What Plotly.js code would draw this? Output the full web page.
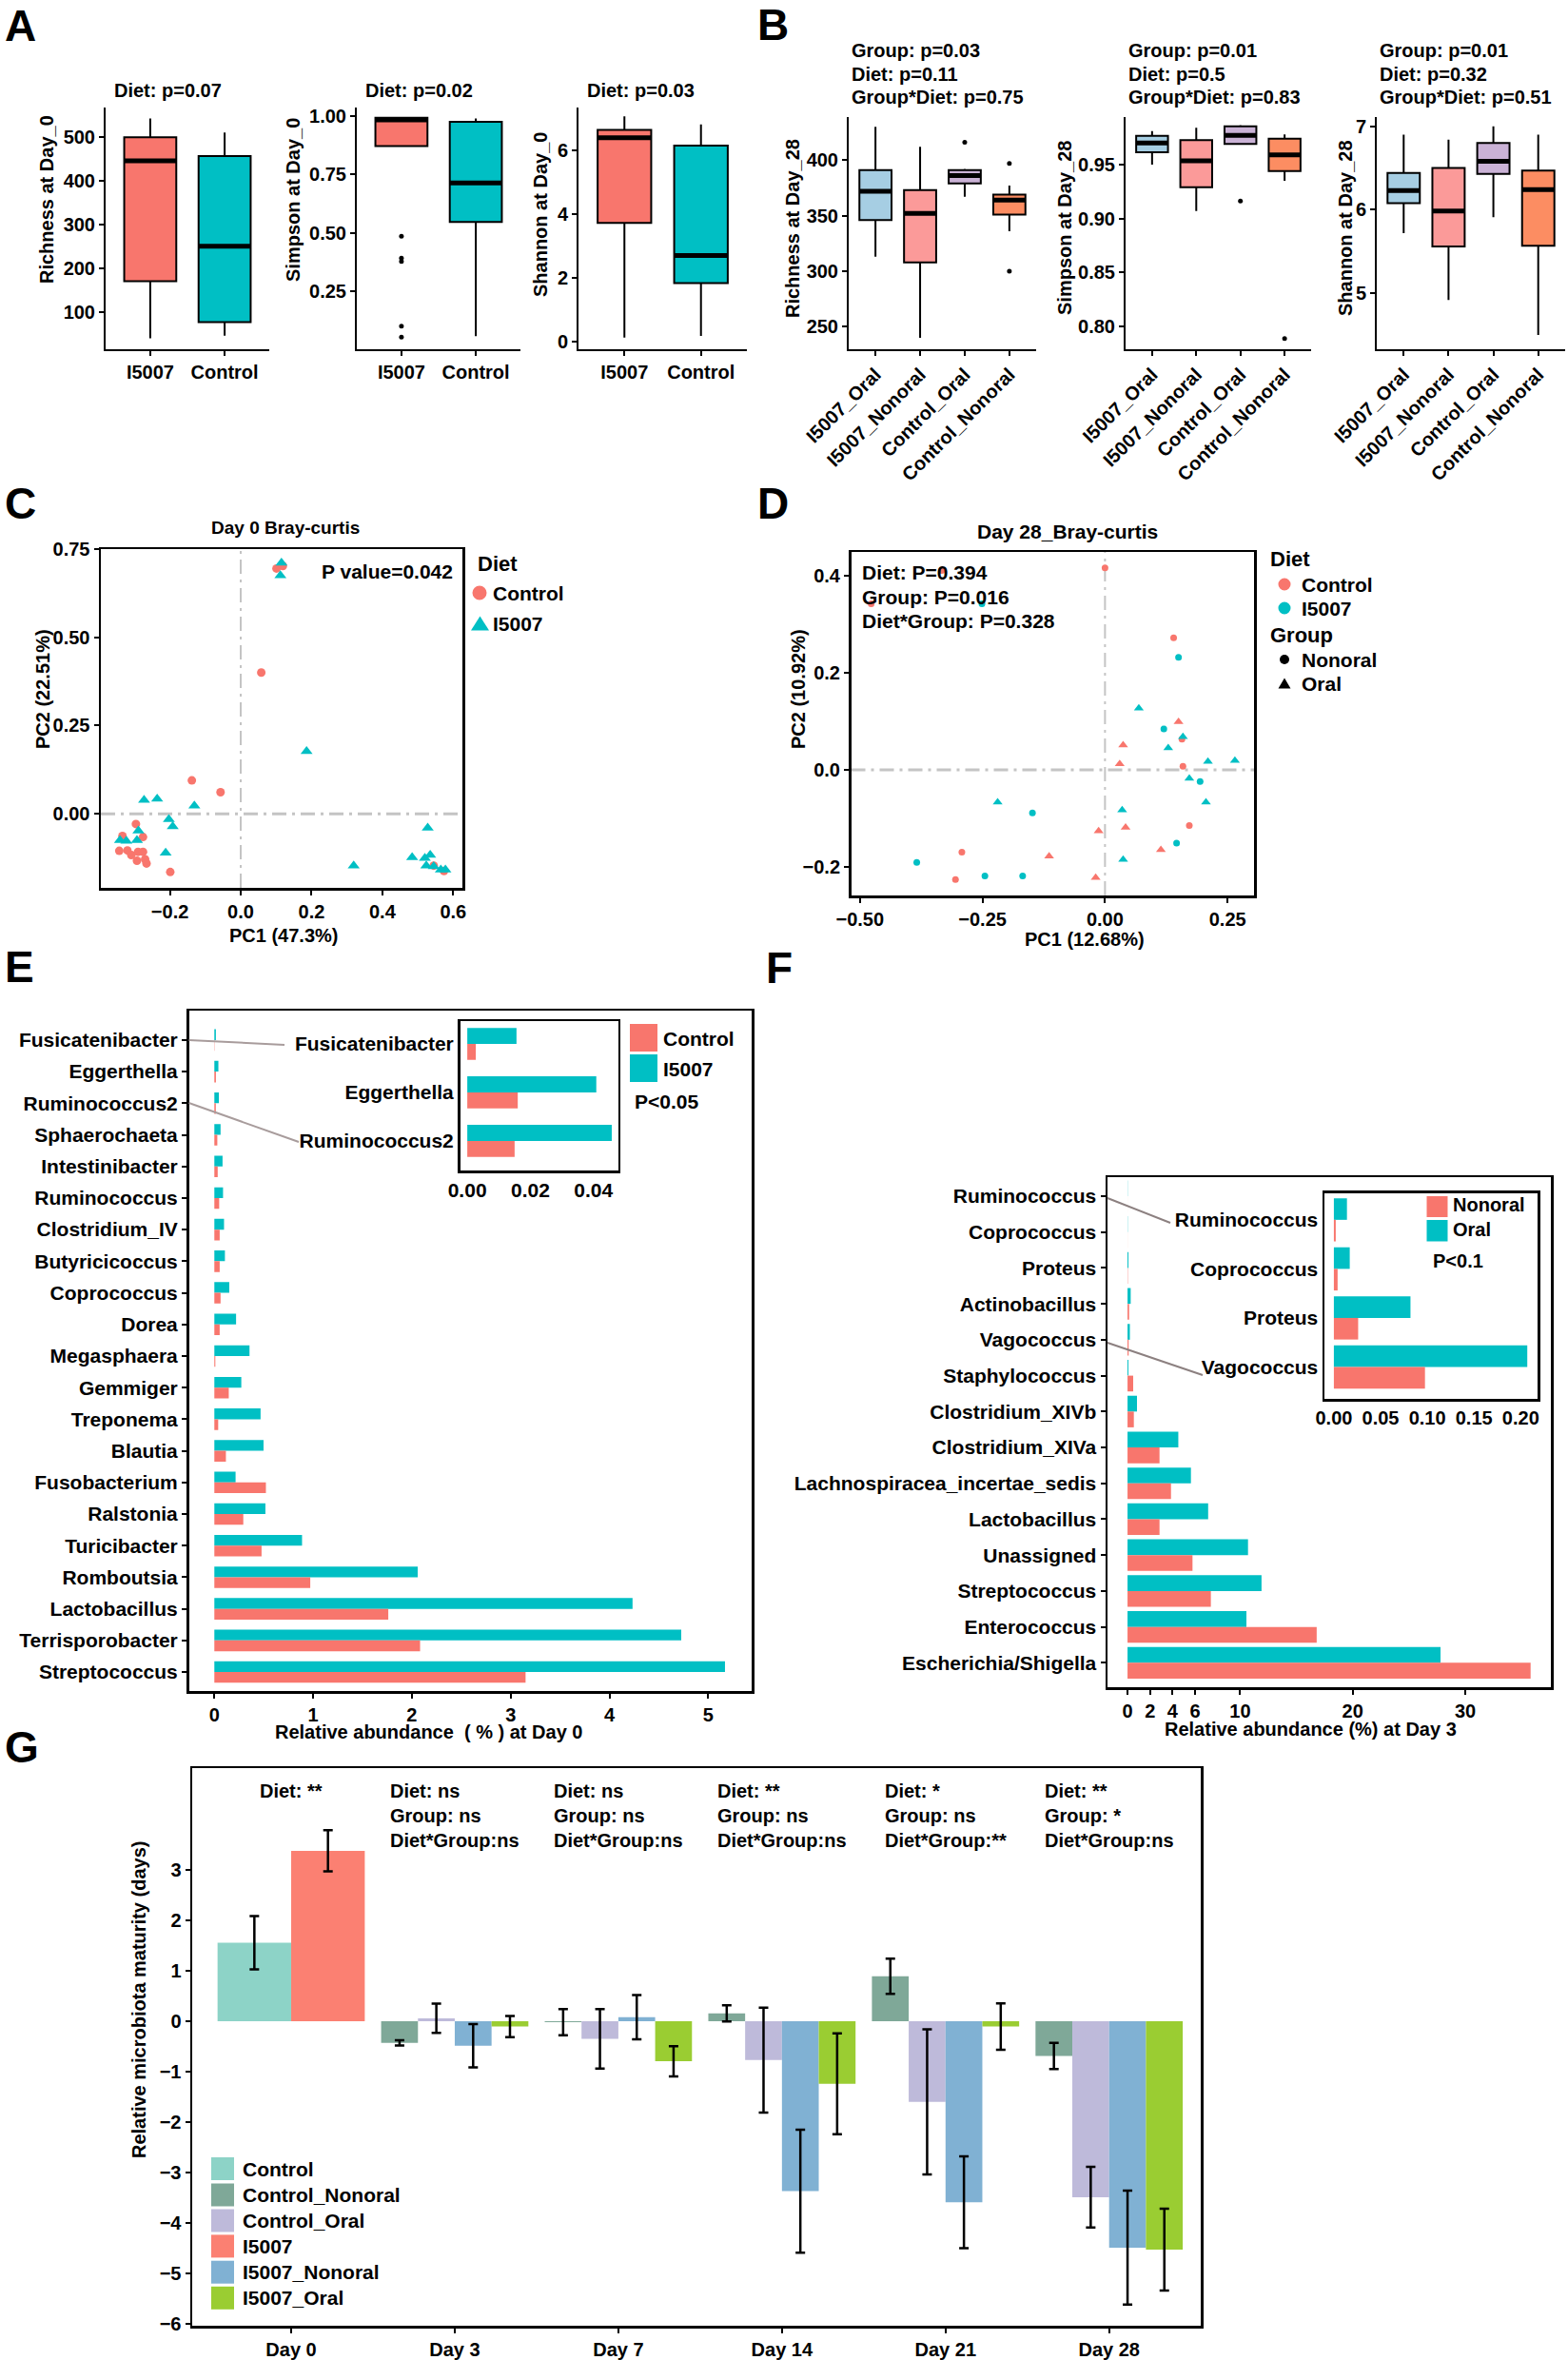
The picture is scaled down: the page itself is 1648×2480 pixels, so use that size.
<!DOCTYPE html>
<html><head><meta charset="utf-8">
<script src="https://cdn.plot.ly/plotly-3.0.1.min.js"></script>
<style>html,body{margin:0;padding:0;background:#fff}</style>
</head><body><div id="chart" style="width:1648px;height:2480px"></div>
<script>
// ================= DATA =================
// Panel A: Day 0 alpha diversity, box stats [lowerWhisker, Q1, median, Q3, upperWhisker]
const aDiets = ['I5007', 'Control'];
const aRichI5007 = [39, 170, 446, 500, 543];
const aRichControl = [45, 76, 250, 457, 511];
const aSimpI5007 = [0.872, 0.872, 0.984, 0.993, 0.993];
const aSimpControl = [0.058, 0.547, 0.714, 0.976, 0.99];
const aSimpI5007Outliers = [0.486, 0.392, 0.378, 0.101, 0.054];
const aShanI5007 = [0.12, 3.72, 6.4, 6.65, 7.07];
const aShanControl = [0.17, 1.83, 2.7, 6.15, 6.82];
const aTitles = ['Diet: p=0.07', 'Diet: p=0.02', 'Diet: p=0.03'];
const aYTitles = ['Richness at Day_0', 'Simpson at Day_0', 'Shannon at Day_0'];

// Panel B: Day 28 alpha diversity
const bGroups = ['I5007_Oral', 'I5007_Nonoral', 'Control_Oral', 'Control_Nonoral'];
const bRich = [[313, 346, 372, 391, 430], [240, 308, 352, 373, 412], [367, 379, 386, 391, 392], [336, 351, 364, 369, 377]];
const bRichOutGroup = ['Control_Oral', 'Control_Nonoral', 'Control_Nonoral'];
const bRichOutVal = [416, 397, 300];
const bSimp = [[0.95, 0.9613, 0.970, 0.9766, 0.981], [0.907, 0.929, 0.9535, 0.9727, 0.984], [0.969, 0.969, 0.977, 0.9855, 0.9865], [0.935, 0.944, 0.959, 0.974, 0.978]];
const bSimpOutGroup = ['Control_Oral', 'Control_Nonoral'];
const bSimpOutVal = [0.9163, 0.789];
const bShan = [[5.72, 6.08, 6.23, 6.44, 6.9], [4.92, 5.56, 5.985, 6.5, 6.84], [5.91, 6.43, 6.58, 6.8, 7.0], [4.5, 5.57, 6.24, 6.47, 6.9]];
const bTitles = [['Group: p=0.03', 'Diet: p=0.11', 'Group*Diet: p=0.75'],
                 ['Group: p=0.01', 'Diet: p=0.5', 'Group*Diet: p=0.83'],
                 ['Group: p=0.01', 'Diet: p=0.32', 'Group*Diet: p=0.51']];
const bYTitles = ['Richness at Day_28', 'Simpson at Day_28', 'Shannon at Day_28'];

// Panel C: Day 0 PCoA
const cControlX = [0.101, 0.119, 0.058, -0.138, -0.057, -0.296, -0.276, -0.334, -0.343, -0.32, -0.309, -0.29, -0.276, -0.293, -0.27, -0.266, -0.199, 0.545, 0.574];
const cControlY = [0.695, 0.702, 0.40, 0.0945, 0.061, -0.029, -0.066, -0.063, -0.105, -0.104, -0.117, -0.108, -0.108, -0.133, -0.129, -0.141, -0.165, -0.147, -0.162];
const cI5007X = [0.115, 0.112, 0.186, -0.273, -0.236, -0.131, -0.203, -0.192, -0.289, -0.341, -0.323, -0.293, -0.212, 0.319, 0.484, 0.528, 0.52, 0.535, 0.524, 0.545, 0.565, 0.578];
const cI5007Y = [0.711, 0.675, 0.177, 0.039, 0.042, 0.0225, -0.016, -0.036, -0.048, -0.075, -0.077, -0.075, -0.111, -0.147, -0.124, -0.040, -0.126, -0.117, -0.147, -0.149, -0.159, -0.159];

// Panel D: Day 28 PCoA
const dCtrlNonX = [0.0, -0.477, -0.333, 0.14, 0.157, 0.159, 0.172, -0.292, -0.305];
const dCtrlNonY = [0.416, 0.342, 0.411, 0.272, 0.063, 0.007, -0.115, -0.170, -0.226];
const dCtrlOralX = [0.15, 0.037, 0.03, 0.042, -0.013, 0.114, -0.114, -0.019];
const dCtrlOralY = [0.099, 0.051, 0.012, -0.119, -0.126, -0.165, -0.178, -0.222];
const dI5007NonX = [0.15, 0.12, 0.194, -0.148, 0.146, -0.384, -0.245, -0.168, -0.251];
const dI5007NonY = [0.232, 0.084, -0.024, -0.089, -0.151, -0.191, -0.219, -0.219, 0.342];
const dI5007OralX = [0.069, 0.159, 0.129, 0.21, 0.265, 0.172, 0.206, 0.035, -0.219, 0.037];
const dI5007OralY = [0.127, 0.068, 0.045, 0.017, 0.019, -0.018, -0.067, -0.083, -0.067, -0.185];

// Panel E: relative abundance at Day 0 (%)
const eGenera = ['Fusicatenibacter', 'Eggerthella', 'Ruminococcus2', 'Sphaerochaeta', 'Intestinibacter', 'Ruminococcus', 'Clostridium_IV', 'Butyricicoccus', 'Coprococcus', 'Dorea', 'Megasphaera', 'Gemmiger', 'Treponema', 'Blautia', 'Fusobacterium', 'Ralstonia', 'Turicibacter', 'Romboutsia', 'Lactobacillus', 'Terrisporobacter', 'Streptococcus'];
const eI5007 = [0.0156, 0.0409, 0.0458, 0.063, 0.083, 0.088, 0.098, 0.107, 0.151, 0.22, 0.356, 0.273, 0.468, 0.498, 0.215, 0.517, 0.888, 2.059, 4.234, 4.727, 5.17];
const eControl = [0.0027, 0.016, 0.015, 0.03, 0.034, 0.049, 0.054, 0.054, 0.063, 0.054, 0.01, 0.146, 0.039, 0.117, 0.522, 0.293, 0.478, 0.971, 1.761, 2.083, 3.151];
const eInsetGenera = ['Fusicatenibacter', 'Eggerthella', 'Ruminococcus2'];

// Panel F: relative abundance at Day 3 (%)
const fGenera = ['Ruminococcus', 'Coprococcus', 'Proteus', 'Actinobacillus', 'Vagococcus', 'Staphylococcus', 'Clostridium_XIVb', 'Clostridium_XIVa', 'Lachnospiracea_incertae_sedis', 'Lactobacillus', 'Unassigned', 'Streptococcus', 'Enterococcus', 'Escherichia/Shigella'];
const fOral = [0.014, 0.017, 0.082, 0.28, 0.207, 0.08, 0.84, 4.51, 5.63, 7.16, 10.7, 11.9, 10.56, 27.8];
const fNonoral = [0.002, 0.004, 0.026, 0.14, 0.0975, 0.5, 0.56, 2.84, 3.86, 2.84, 5.77, 7.4, 16.8, 35.8];
const fInsetGenera = ['Ruminococcus', 'Coprococcus', 'Proteus', 'Vagococcus'];

// Panel G: relative microbiota maturity (days)
const gDays = ['Day 0', 'Day 3', 'Day 7', 'Day 14', 'Day 21', 'Day 28'];
const gControl = [1.557], gControlErr = [0.527];
const gI5007 = [3.38], gI5007Err = [0.41];
const gCtrlNonoral = [-0.43, -0.02, 0.154, 0.89, -0.69], gCtrlNonoralErr = [0.05, 0.26, 0.16, 0.35, 0.26];
const gCtrlOral = [0.057, -0.35, -0.77, -1.6, -3.49], gCtrlOralErr = [0.29, 0.59, 1.04, 1.44, 0.6];
const gI5007Nonoral = [-0.487, 0.08, -3.37, -3.59, -4.49], gI5007NonoralErr = [0.43, 0.44, 1.22, 0.91, 1.13];
const gI5007Oral = [-0.105, -0.795, -1.24, -0.105, -4.53], gI5007OralErr = [0.21, 0.3, 1.0, 0.46, 0.81];
const gStatDiet = ['**', 'ns', 'ns', '**', '*', '**'];
const gStatGroup = [null, 'ns', 'ns', 'ns', 'ns', '*'];
const gStatInter = [null, 'ns', 'ns', 'ns', '**', 'ns'];
const gLegend = ['Control', 'Control_Nonoral', 'Control_Oral', 'I5007', 'I5007_Nonoral', 'I5007_Oral'];

// ================= STYLE =================
const W = 1648, H = 2480;
const FONT = 'Liberation Sans, Arial, sans-serif';
const SALMON = '#F8766D', TEAL = '#00BFC4';
const bColors = ['#A6CEE3', '#FB9A99', '#CAB2D6', '#FC8D62'];
const gColors = {'Control': '#8DD3C7', 'Control_Nonoral': '#7FA898', 'Control_Oral': '#BEBADA', 'I5007': '#FB8072', 'I5007_Nonoral': '#80B1D3', 'I5007_Oral': '#9ACD32'};
function f(size, extra) { return Object.assign({family: FONT, size: size, color: '#000', weight: 'bold'}, extra || {}); }
const X = p => p / W, Y = p => 1 - p / H;
const sfx = n => (n === 1 ? '' : String(n));

const layout = {
  width: W, height: H, margin: {l: 0, r: 0, t: 0, b: 0},
  paper_bgcolor: '#fff', plot_bgcolor: 'rgba(0,0,0,0)',
  showlegend: false, hovermode: false, barmode: 'overlay', boxmode: 'overlay',
  font: f(20), annotations: [], shapes: []
};
function base(extra) {
  return Object.assign({showgrid: false, zeroline: false, showline: true, linecolor: '#000', linewidth: 2,
    ticks: 'outside', ticklen: 5, tickwidth: 2, tickcolor: '#000', tickfont: f(20), fixedrange: true, automargin: false}, extra);
}
function addSub(n, l, r, t, b, xo, yo) {
  layout['xaxis' + sfx(n)] = base(Object.assign({domain: [X(l), X(r)], anchor: 'y' + sfx(n)}, xo));
  layout['yaxis' + sfx(n)] = base(Object.assign({domain: [Y(b), Y(t)], anchor: 'x' + sfx(n)}, yo));
}
function T(text, x, y, size, opt) {
  return Object.assign({text: text, x: X(x), y: Y(y), xref: 'paper', yref: 'paper', showarrow: false,
    xanchor: 'left', yanchor: 'middle', font: f(size)}, opt || {});
}
const A = a => layout.annotations.push(a);
const S = s => layout.shapes.push(s);
function rect(l, t, r, b, color) { return {type: 'rect', xref: 'paper', yref: 'paper', x0: X(l), x1: X(r), y0: Y(b), y1: Y(t), fillcolor: color, line: {width: 0}}; }
function circ(cx, cy, d, color) { return {type: 'circle', xref: 'paper', yref: 'paper', x0: X(cx - d / 2), x1: X(cx + d / 2), y0: Y(cy + d / 2), y1: Y(cy - d / 2), fillcolor: color, line: {width: 0}}; }
function tri(cx, cy, w, h, color) {
  const p = 'M' + X(cx) + ',' + Y(cy - h / 2) + ' L' + X(cx - w / 2) + ',' + Y(cy + h / 2) + ' L' + X(cx + w / 2) + ',' + Y(cy + h / 2) + ' Z';
  return {type: 'path', xref: 'paper', yref: 'paper', path: p, fillcolor: color, line: {width: 0}};
}
function seg(x0, y0, x1, y1, color, w) { return {type: 'line', xref: 'paper', yref: 'paper', x0: X(x0), y0: Y(y0), x1: X(x1), y1: Y(y1), line: {color: color, width: w}}; }

const traces = [];
function box(n, pos, s, color, w) {
  return {type: 'box', orientation: 'v', xaxis: 'x' + sfx(n), yaxis: 'y' + sfx(n), x: [pos],
    lowerfence: [s[0]], q1: [s[1]], median: [s[2]], q3: [s[3]], upperfence: [s[4]],
    width: w, fillcolor: color, line: {color: '#000', width: 2}, whiskerwidth: 0, boxpoints: false, hoverinfo: 'skip', showlegend: false};
}
function medianBar(n, pos, s, w) {
  const m = s[2];
  return {type: 'box', orientation: 'v', xaxis: 'x' + sfx(n), yaxis: 'y' + sfx(n), x: [pos],
    lowerfence: [m], q1: [m], median: [m], q3: [m], upperfence: [m],
    width: w, fillcolor: 'rgba(0,0,0,0)', line: {color: '#000', width: 5}, whiskerwidth: 0, boxpoints: false, hoverinfo: 'skip', showlegend: false};
}
function dots(n, xs, ys, marker) {
  return {type: 'scatter', mode: 'markers', xaxis: 'x' + sfx(n), yaxis: 'y' + sfx(n), x: xs, y: ys, marker: marker, hoverinfo: 'skip', showlegend: false, cliponaxis: false};
}

// ================= PANEL A =================
const aColors = [SALMON, TEAL];
const aStats = [[aRichI5007, aRichControl], [aSimpI5007, aSimpControl], [aShanI5007, aShanControl]];
const aDom = [[111, 283], [375, 547], [608, 785]];
const aY = [{range: [14, 568], tickvals: [100, 200, 300, 400, 500]},
            {range: [0.0025, 1.037], tickvals: [0, 0.25, 0.5, 0.75, 1], tickformat: '.2f'},
            {range: [-0.25, 7.35], tickvals: [0, 2, 4, 6]}];
aStats.forEach((pair, k) => {
  const n = k + 1;
  addSub(n, aDom[k][0], aDom[k][1], 113, 367, {range: [-0.6, 1.6], tickvals: [0, 1], ticktext: aDiets}, aY[k]);
  pair.forEach((s, i) => { traces.push(box(n, i, s, aColors[i], 0.7)); traces.push(medianBar(n, i, s, 0.7)); });
  A(T(aTitles[k], aDom[k][0] + 7, 95, 20));
});
traces.push(dots(2, aSimpI5007Outliers.map(() => aDiets.indexOf('I5007')), aSimpI5007Outliers, {color: '#000', size: 5}));
A(T(aYTitles[0], 49, 210, 20, {xanchor: 'center', textangle: -90}));
A(T(aYTitles[1], 308, 210, 20, {xanchor: 'center', textangle: -90}));
A(T(aYTitles[2], 568, 226, 20, {xanchor: 'center', textangle: -90}));

// ================= PANEL B =================
const bStats = [bRich, bSimp, bShan];
const bDom = [[892, 1089], [1183, 1378], [1447, 1645]];
const bY = [{range: [229.7, 438.8], tickvals: [250, 300, 350, 400]},
            {range: [0.779, 0.994], tickvals: [0.8, 0.85, 0.9, 0.95], tickformat: '.2f'},
            {range: [4.33, 7.11], tickvals: [5, 6, 7]}];
const bYTitleX = [833, 1119, 1414];
bStats.forEach((set, k) => {
  const n = k + 4;
  addSub(n, bDom[k][0], bDom[k][1], 123, 367, {range: [-0.6, 3.6], tickvals: [0, 1, 2, 3], ticktext: bGroups, tickangle: -45}, bY[k]);
  set.forEach((s, i) => { traces.push(box(n, i, s, bColors[i], 0.72)); traces.push(medianBar(n, i, s, 0.72)); });
  bTitles[k].forEach((t, j) => A(T(t, bDom[k][0] + 1, 53 + j * 24.5, 20)));
  A(T(bYTitles[k], bYTitleX[k], 240, 20, {xanchor: 'center', textangle: -90}));
});
traces.push(dots(4, bRichOutGroup.map(g => bGroups.indexOf(g)), bRichOutVal, {color: '#000', size: 5}));
traces.push(dots(5, bSimpOutGroup.map(g => bGroups.indexOf(g)), bSimpOutVal, {color: '#000', size: 5}));

// ================= PANEL C =================
addSub(7, 106, 486, 577, 933,
  {range: [-0.395, 0.626], tickvals: [-0.2, 0, 0.2, 0.4, 0.6], tickformat: '.1f', mirror: true, linewidth: 2.5},
  {range: [-0.21, 0.75], tickvals: [0, 0.25, 0.5, 0.75], tickformat: '.2f', mirror: true, linewidth: 2.5});
traces.push(dots(7, cControlX, cControlY, {color: SALMON, size: 9, symbol: 'circle'}));
traces.push(dots(7, cI5007X, cI5007Y, {color: TEAL, size: 11, symbol: 'triangle-up'}));
S({type: 'line', xref: 'x7', yref: 'y7 domain', x0: 0, x1: 0, y0: 0, y1: 1, layer: 'below', line: {color: '#C4C4C4', width: 2, dash: 'longdashdot'}});
S({type: 'line', xref: 'x7 domain', yref: 'y7', x0: 0, x1: 1, y0: 0, y1: 0, layer: 'below', line: {color: '#C4C4C4', width: 3, dash: 'longdashdot'}});
A(T('Day 0 Bray-curtis', 300, 555, 19, {xanchor: 'center'}));
A(T('P value=0.042', 478, 601, 21, {xanchor: 'right'}));
A(T('PC1 (47.3%)', 298, 983, 20, {xanchor: 'center'}));
A(T('PC2 (22.51%)', 45, 724, 20, {xanchor: 'center', textangle: -90}));
A(T('Diet', 500, 592, 22));
S(circ(504, 623, 15, SALMON)); A(T('Control', 516, 623, 21));
S(tri(504.5, 655, 19, 15, TEAL)); A(T('I5007', 516, 655, 21));

// ================= PANEL D =================
addSub(8, 894.5, 1318, 580, 941,
  {range: [-0.518, 0.304], tickvals: [-0.5, -0.25, 0, 0.25], tickformat: '.2f', mirror: true, linewidth: 2.5},
  {range: [-0.259, 0.449], tickvals: [-0.2, 0, 0.2, 0.4], tickformat: '.1f', mirror: true, linewidth: 2.5});
S({type: 'line', xref: 'x8', yref: 'y8 domain', x0: 0, x1: 0, y0: 0, y1: 1, layer: 'below', line: {color: '#C4C4C4', width: 2, dash: 'longdashdot'}});
S({type: 'line', xref: 'x8 domain', yref: 'y8', x0: 0, x1: 1, y0: 0, y1: 0, layer: 'below', line: {color: '#C4C4C4', width: 3, dash: 'longdashdot'}});
traces.push(dots(8, dCtrlNonX, dCtrlNonY, {color: SALMON, size: 7, symbol: 'circle'}));
traces.push(dots(8, dCtrlOralX, dCtrlOralY, {color: SALMON, size: 9, symbol: 'triangle-up'}));
traces.push(dots(8, dI5007NonX, dI5007NonY, {color: TEAL, size: 7, symbol: 'circle'}));
traces.push(dots(8, dI5007OralX, dI5007OralY, {color: TEAL, size: 9, symbol: 'triangle-up'}));
A(T('Day 28_Bray-curtis', 1122, 558, 21, {xanchor: 'center'}));
A(T('Diet: P=0.394', 904, 602, 21));
A(T('Group: P=0.016', 904, 627, 21));
A(T('Diet*Group: P=0.328', 904, 652, 21));
A(T('PC1 (12.68%)', 1140, 987, 20, {xanchor: 'center'}));
A(T('PC2 (10.92%)', 839, 724, 20, {xanchor: 'center', textangle: -90}));
A(T('Diet', 1333, 587, 22));
S(circ(1350, 614, 13, SALMON)); A(T('Control', 1366, 614, 21));
S(circ(1350, 639, 13, TEAL)); A(T('I5007', 1366, 639, 21));
A(T('Group', 1333, 668, 22));
S(circ(1350, 693, 10, '#000')); A(T('Nonoral', 1366, 693, 21));
S(tri(1350, 718, 13, 11, '#000')); A(T('Oral', 1366, 718, 21));

// ================= PANEL E =================
addSub(9, 198.5, 790, 1062, 1777,
  {range: [-0.258, 5.44], tickvals: [0, 1, 2, 3, 4, 5], mirror: true, linewidth: 2.5},
  {type: 'category', categoryorder: 'array', categoryarray: eGenera.slice().reverse(), range: [-0.6, 20.93], mirror: true, linewidth: 2.5, tickfont: f(21)});
function hbar(n, ys, xs, color, off, w) {
  return {type: 'bar', orientation: 'h', xaxis: 'x' + sfx(n), yaxis: 'y' + sfx(n), y: ys, x: xs, offset: off, width: w,
    marker: {color: color, line: {width: 0}}, hoverinfo: 'skip', showlegend: false};
}
traces.push(hbar(9, eGenera, eI5007, TEAL, 0, 0.34));
traces.push(hbar(9, eGenera, eControl, SALMON, -0.34, 0.34));
addSub(10, 483.5, 649.6, 1073, 1230,
  {range: [-0.0023, 0.0478], tickvals: [0, 0.02, 0.04], tickformat: '.2f', mirror: true, ticks: '', linewidth: 2.5, tickfont: f(21)},
  {type: 'category', categoryorder: 'array', categoryarray: eInsetGenera.slice().reverse(), range: [-0.61, 2.47], mirror: true, ticks: '', linewidth: 2.5, tickfont: f(21)});
const eIdx = eInsetGenera.map(g => eGenera.indexOf(g));
traces.push(hbar(10, eInsetGenera, eIdx.map(i => eI5007[i]), TEAL, 0, 0.33));
traces.push(hbar(10, eInsetGenera, eIdx.map(i => eControl[i]), SALMON, -0.33, 0.33));
S(seg(198.5, 1093, 299, 1098, '#A89C9C', 2));
S(seg(198.5, 1159, 314, 1200, '#A89C9C', 2));
S(rect(662, 1076, 691, 1105, SALMON)); A(T('Control', 695, 1091, 21));
S(rect(662, 1108, 691, 1137, TEAL)); A(T('I5007', 695, 1123, 21));
A(T('P<0.05', 665, 1157, 21));
A(T('Relative abundance  ( % ) at Day 0', 450, 1820, 20, {xanchor: 'center'}));

// ================= PANEL F =================
addSub(11, 1164, 1630, 1237, 1773,
  {range: [-1.78, 37.6], tickvals: [0, 2, 4, 6, 10, 20, 30], mirror: true, linewidth: 2.5},
  {type: 'category', categoryorder: 'array', categoryarray: fGenera.slice().reverse(), range: [-0.68, 13.53], mirror: true, linewidth: 2.5, tickfont: f(21)});
traces.push(hbar(11, fGenera, fOral, TEAL, 0, 0.44));
traces.push(hbar(11, fGenera, fNonoral, SALMON, -0.44, 0.44));
addSub(12, 1392, 1616, 1253.5, 1470,
  {range: [-0.0101, 0.218], tickvals: [0, 0.05, 0.1, 0.15, 0.2], tickformat: '.2f', mirror: true, ticks: '', linewidth: 2.5, tickfont: f(20)},
  {type: 'category', categoryorder: 'array', categoryarray: fInsetGenera.slice().reverse(), range: [-0.65, 3.55], mirror: true, ticks: '', linewidth: 2.5, tickfont: f(21)});
const fIdx = fInsetGenera.map(g => fGenera.indexOf(g));
traces.push(hbar(12, fInsetGenera, fIdx.map(i => fOral[i]), TEAL, 0, 0.44));
traces.push(hbar(12, fInsetGenera, fIdx.map(i => fNonoral[i]), SALMON, -0.44, 0.44));
S(seg(1164, 1259, 1230, 1285, '#8C8080', 2));
S(seg(1164, 1411, 1264, 1445, '#8C8080', 2));
S(rect(1499.5, 1257, 1521.5, 1279, SALMON)); A(T('Nonoral', 1525, 1266, 20));
S(rect(1499.5, 1282, 1521.5, 1304.5, TEAL)); A(T('Oral', 1525, 1292, 20));
A(T('P<0.1', 1504, 1325, 20));
A(T('Relative abundance (%) at Day 3', 1377, 1817, 20, {xanchor: 'center'}));

// ================= PANEL G =================
addSub(13, 202, 1262, 1858, 2444,
  {type: 'category', categoryorder: 'array', categoryarray: gDays, range: [-0.605, 5.56], mirror: true, linewidth: 2.5},
  {range: [-6.04, 5.02], tickvals: [-6, -5, -4, -3, -2, -1, 0, 1, 2, 3], mirror: true, linewidth: 2.5});
function vbar(xs, ys, errs, name, off, w) {
  return {type: 'bar', xaxis: 'x13', yaxis: 'y13', x: xs, y: ys, offset: off, width: w,
    marker: {color: gColors[name], line: {width: 0}},
    error_y: {type: 'data', array: errs, visible: true, color: '#000', thickness: 2.5, width: 5},
    hoverinfo: 'skip', showlegend: false};
}
const gLater = gDays.slice(1);
traces.push(vbar(gDays.slice(0, 1), gControl, gControlErr, 'Control', -0.45, 0.45));
traces.push(vbar(gDays.slice(0, 1), gI5007, gI5007Err, 'I5007', 0, 0.45));
traces.push(vbar(gLater, gCtrlNonoral, gCtrlNonoralErr, 'Control_Nonoral', -0.45, 0.225));
traces.push(vbar(gLater, gCtrlOral, gCtrlOralErr, 'Control_Oral', -0.225, 0.225));
traces.push(vbar(gLater, gI5007Nonoral, gI5007NonoralErr, 'I5007_Nonoral', 0, 0.225));
traces.push(vbar(gLater, gI5007Oral, gI5007OralErr, 'I5007_Oral', 0.225, 0.225));
gDays.forEach((d, i) => {
  const lines = ['Diet: ' + gStatDiet[i]];
  if (gStatGroup[i]) lines.push('Group: ' + gStatGroup[i]);
  if (gStatInter[i]) lines.push('Diet*Group:' + gStatInter[i]);
  A({text: lines.join('<br>'), x: d, xref: 'x13', y: Y(1869), yref: 'paper', showarrow: false,
     xanchor: 'center', yanchor: 'top', align: 'left', font: f(20)});
});
const gRowY = [2279, 2306.5, 2333.5, 2360.4, 2387.7, 2414.8];
gLegend.forEach((name, i) => {
  S(rect(222, gRowY[i] - 12, 246, gRowY[i] + 12, gColors[name]));
  A(T(name, 253, gRowY[i], 21));
});
A(T('Relative microbiota maturity (days)', 146, 2102, 20, {xanchor: 'center', textangle: -90}));

// ================= PANEL LETTERS =================
[['A', 3, 27], ['B', 794, 26], ['C', 3, 529], ['D', 794, 529], ['E', 3, 1016], ['F', 803, 1017], ['G', 3, 1836]]
  .forEach(p => A(T(p[0], p[1], p[2], 46)));

Plotly.newPlot('chart', traces, layout, {staticPlot: true, displayModeBar: false});
</script></body></html>
